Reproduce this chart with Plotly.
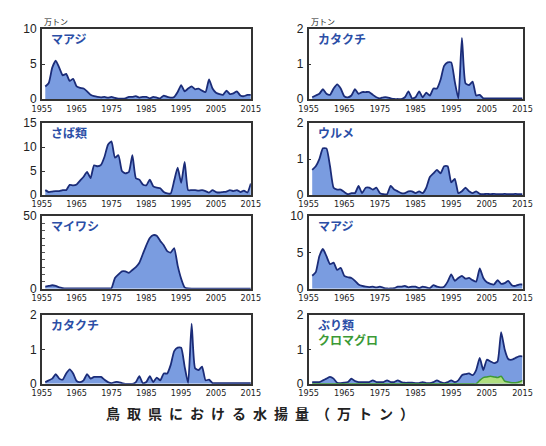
import plotly.graph_objects as go

years = list(range(1956, 2016))

# 水揚量（万トン）
maaji = [1.8, 2.3, 4.5, 5.5, 4.5, 3.4, 3.6, 2.6, 2.9, 1.8,
         1.6, 1.5, 1.1, 0.6, 0.4, 0.3, 0.25, 0.3, 0.2, 0.3,
         0.15, 0.05, 0.05, 0.1, 0.3, 0.3, 0.4, 0.2, 0.3, 0.3,
         0.1, 0.3, 0.2, 0.1, 0.5, 0.3, 0.2, 0.3, 1.0, 2.0,
         1.1, 1.5, 1.8, 1.4, 1.5, 1.2, 1.0, 2.8, 1.5, 0.9,
         0.7, 0.6, 1.2, 0.7, 0.8, 1.1, 0.5, 0.4, 0.6, 0.6]

katakuchi = [0.05, 0.1, 0.15, 0.28, 0.15, 0.12, 0.3, 0.42, 0.3, 0.08,
             0.05, 0.1, 0.28, 0.15, 0.2, 0.2, 0.2, 0.12, 0.05, 0.02,
             0.05, 0.05, 0.02, 0.0, 0.0, 0.0, 0.05, 0.22, 0.02, 0.05,
             0.22, 0.05, 0.18, 0.1, 0.3, 0.3, 0.55, 0.95, 1.05, 1.05,
             0.5, 0.02, 1.75, 0.45, 0.4, 0.5, 0.1, 0.12, 0.02, 0.02,
             0.02, 0.02, 0.02, 0.02, 0.02, 0.02, 0.02, 0.02, 0.02, 0.02]

saba = [1.0, 0.6, 0.7, 0.8, 0.8, 1.0, 1.0, 2.1, 2.0, 2.2,
        3.0, 3.8, 4.8, 3.5, 6.2, 6.0, 6.3, 8.0, 10.5, 11.2,
        7.8, 8.3, 5.0, 4.5, 4.8, 8.3, 3.5, 3.2, 2.2, 2.0,
        3.2, 1.8, 1.5, 1.4, 0.6, 0.3, 0.3, 3.0, 5.7, 2.5,
        6.9, 1.0, 1.0, 1.0, 0.9, 1.0, 0.8, 0.5, 1.0, 0.6,
        0.5, 0.6, 0.7, 1.0, 0.8, 1.0, 0.6, 0.9, 0.5, 2.4]

urume = [0.7, 0.8, 1.0, 1.3, 1.3, 0.8, 0.2, 0.15, 0.15, 0.08,
         0.02, 0.05, 0.05, 0.25, 0.05, 0.2, 0.2, 0.15, 0.2, 0.05,
         0.02, 0.02, 0.25, 0.15, 0.1, 0.05, 0.05, 0.1, 0.1, 0.05,
         0.1, 0.05, 0.2, 0.5, 0.6, 0.7, 0.6, 0.8, 0.8, 0.35,
         0.45, 0.05, 0.1, 0.2, 0.1, 0.05, 0.1, 0.03, 0.02, 0.03,
         0.02, 0.03, 0.02, 0.02, 0.03, 0.02, 0.02, 0.03, 0.02, 0.02]

maiwashi = [1.5, 2.0, 2.5, 2.0, 1.0, 0.5, 0.3, 0.3, 0.3, 0.3,
            0.3, 0.3, 0.3, 0.3, 0.3, 0.3, 0.3, 0.3, 0.3, 0.5,
            7.5, 10.0, 12.0, 12.0, 11.0, 13.0, 15.0, 18.0, 24.0, 30.0,
            35.0, 37.0, 36.5, 33.0, 30.0, 26.0, 25.0, 28.0, 16.0, 7.0,
            1.0, 0.3, 0.2, 0.2, 0.2, 0.2, 0.2, 0.2, 0.2, 0.2,
            0.2, 0.2, 0.2, 0.2, 0.2, 0.2, 0.2, 0.2, 0.2, 0.2]

buri = [0.05, 0.05, 0.05, 0.1, 0.15, 0.2, 0.15, 0.03, 0.02, 0.03,
        0.05, 0.15, 0.08, 0.05, 0.05, 0.05, 0.05, 0.1, 0.05, 0.05,
        0.05, 0.1, 0.05, 0.05, 0.1, 0.05, 0.03, 0.03, 0.03, 0.02,
        0.02, 0.05, 0.02, 0.02, 0.05, 0.1, 0.05, 0.02, 0.05, 0.1,
        0.05, 0.1, 0.25, 0.28, 0.3, 0.25, 0.4, 0.75, 0.4, 0.7,
        0.65, 0.6, 0.65, 1.5, 1.0, 0.72, 0.7, 0.75, 0.8, 0.8]

kuromaguro = [0.0] * 47 + [0.1, 0.18, 0.2, 0.22, 0.2, 0.18, 0.22, 0.08,
                            0.05, 0.03, 0.03, 0.05, 0.1]

xtick_vals = [1955, 1965, 1975, 1985, 1995, 2005, 2015]
xtick_text = [str(v) for v in xtick_vals]

W, H = 546, 446
BLUE_FILL = "rgb(122,156,224)"
BLUE_LINE = "#1b2c78"
LABEL_BLUE = "#2b4ea6"
GREEN_FILL = "#b0de80"
GREEN_LINE = "#3f9a34"
LABEL_GREEN = "#3c9a35"
AXIS_COLOR = "#333333"

def px_x(p):
    return p / W

def px_y(p):
    return 1 - p / H

# panel frames in pixels: (left, right, top, bottom)
col_l = (33, 250)
col_r = (310, 532)
rows = [(23, 95), (120, 194), (216, 291), (318, 389)]

panels = [
    # (column, row, name, series, ymax, yticks)
    (0, 0, "マアジ", maaji, 10, [0, 5, 10]),
    (1, 0, "カタクチ", katakuchi, 2, [0, 1, 2]),
    (0, 1, "さば類", saba, 15, [0, 5, 10, 15]),
    (1, 1, "ウルメ", urume, 2, [0, 1, 2]),
    (0, 2, "マイワシ", maiwashi, 50, [0, 50]),
    (1, 2, "マアジ", maaji, 10, [0, 5, 10]),
    (0, 3, "カタクチ", katakuchi, 2, [0, 1, 2]),
    (1, 3, "ぶり類", buri, 2, [0, 1, 2]),
]

fig = go.Figure()
annotations = []
layout_axes = {}

tick_font = dict(family="Liberation Sans Narrow, DejaVu Sans Condensed, Arial Narrow, sans-serif",
                 size=9, color="#222222")
ytick_font = dict(family="Liberation Sans Narrow, Liberation Sans, Arial, sans-serif",
                  size=12, color="#222222")
jp_font = "Noto Sans CJK JP, sans-serif"

for i, (col, row, name, series, ymax, yticks) in enumerate(panels):
    n = i + 1
    xa = "x" if n == 1 else f"x{n}"
    ya = "y" if n == 1 else f"y{n}"
    left, right = col_l if col == 0 else col_r
    top, bottom = rows[row]

    fig.add_trace(go.Scatter(
        x=years, y=series, xaxis=xa, yaxis=ya, mode="lines",
        line=dict(color=BLUE_LINE, width=1.8, shape="spline", smoothing=0.5),
        fill="tozeroy", fillcolor=BLUE_FILL, showlegend=False, hoverinfo="skip"))
    if name == "ぶり類":
        fig.add_trace(go.Scatter(
            x=years, y=kuromaguro, xaxis=xa, yaxis=ya, mode="lines",
            line=dict(color=GREEN_LINE, width=1.5, shape="spline", smoothing=0.5),
            fill="tozeroy", fillcolor=GREEN_FILL, showlegend=False, hoverinfo="skip"))

    xkey = "xaxis" if n == 1 else f"xaxis{n}"
    ykey = "yaxis" if n == 1 else f"yaxis{n}"
    layout_axes[xkey] = dict(
        domain=[px_x(left), px_x(right)], anchor=ya, range=[1955, 2015],
        tickvals=xtick_vals, ticktext=xtick_text, tickfont=tick_font,
        ticks="", showgrid=False, zeroline=False, showline=True, mirror=True,
        linecolor=AXIS_COLOR, linewidth=1.5, ticklabelstandoff=0)
    yax = dict(
        domain=[px_y(bottom), px_y(top)], anchor=xa, range=[0, ymax],
        tickvals=yticks, tickfont=ytick_font, ticks="inside", ticklen=3,
        tickcolor=AXIS_COLOR, showgrid=False, zeroline=False, showline=True,
        mirror=True, linecolor=AXIS_COLOR, linewidth=1.5, ticklabelstandoff=1)
    if ymax == 50:
        yax["minor"] = dict(dtick=5, ticks="inside", ticklen=3, tickcolor="#555555")
    layout_axes[ykey] = yax

    # species name inside the panel
    annotations.append(dict(
        text=f"<b>{name}</b>", xref="paper", yref="paper",
        x=px_x(left + 8), y=px_y(top + 10), xanchor="left", yanchor="middle",
        showarrow=False, font=dict(family=jp_font, size=12, color=LABEL_BLUE)))
    if name == "ぶり類":
        annotations.append(dict(
            text="<b>クロマグロ</b>", xref="paper", yref="paper",
            x=px_x(left + 8), y=px_y(top + 25), xanchor="left", yanchor="middle",
            showarrow=False, font=dict(family=jp_font, size=12, color=LABEL_GREEN)))

# unit labels above the top row
for left in (col_l[0], col_r[0]):
    annotations.append(dict(
        text="万トン", xref="paper", yref="paper", x=px_x(left), y=px_y(15),
        xanchor="left", yanchor="middle", showarrow=False,
        font=dict(family=jp_font, size=8, color="#222222")))

# figure title, letter-spaced
title_text = "\u2002".join("鳥取県における水揚量（万トン）")
annotations.append(dict(
    text=f"<b>{title_text}</b>", xref="paper", yref="paper",
    x=px_x(260), y=px_y(419), xanchor="center", yanchor="middle",
    showarrow=False, font=dict(family=jp_font, size=14, color="#222222")))

fig.update_layout(
    width=W, height=H, margin=dict(l=0, r=0, t=0, b=0),
    paper_bgcolor="white", plot_bgcolor="white",
    annotations=annotations, **layout_axes)

fig.write_html("out.html")
